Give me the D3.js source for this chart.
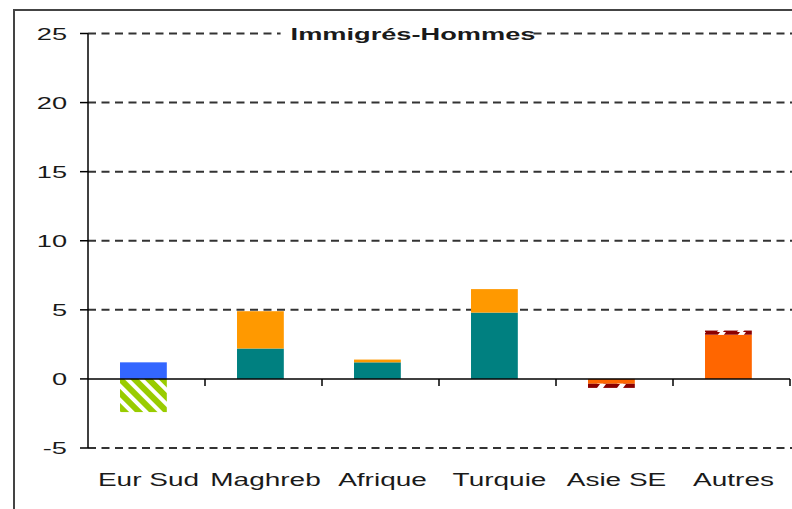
<!DOCTYPE html>
<html>
<head>
<meta charset="utf-8">
<script src="https://cdn.jsdelivr.net/npm/d3@7"></script>
<style>
  html, body { margin: 0; padding: 0; background: #fff; }
  svg { display: block; font-family: "Liberation Sans", Arial, sans-serif; }
</style>
</head>
<body>
<svg id="chart" width="792" height="509"></svg>
<script>
// ---- data ----
const categories = ["Eur Sud", "Maghreb", "Afrique", "Turquie", "Asie SE", "Autres"];
const yTicks = [-5, 0, 5, 10, 15, 20, 25];
const title = "Immigrés-Hommes";

// one array per series (stacked, negatives go down)
const serieBleu   = [1.2, 0, 0, 0, 0, 0];
const serieVert   = [-2.4, 0, 0, 0, 0, 0];
const serieTeal   = [0, 2.2, 1.2, 4.8, 0, 0];
const serieOrange = [0, 2.7, 0.2, 1.7, 0, 0];
const serieRouge  = [0, 0, 0, 0, -0.35, 3.2];
const serieBrun   = [0, 0, 0, 0, -0.3, 0.3];

const seriesKeys = ["bleu", "vert", "teal", "orange", "rouge", "brun"];
const seriesFill = {
  bleu: "#3366ff", vert: "url(#hatchVert)", teal: "#008080",
  orange: "#ff9900", rouge: "#ff6600", brun: "url(#dashBrun)"
};

const rows = categories.map((c, i) => ({
  cat: c,
  bleu: serieBleu[i], vert: serieVert[i], teal: serieTeal[i],
  orange: serieOrange[i], rouge: serieRouge[i], brun: serieBrun[i]
}));

// ---- layout ----
const svg = d3.select("#chart");
const stretch = 1.6;   // the picture is wide-stretched, text too

const y = d3.scaleLinear().domain([-5, 25]).range([448, 33.5]);
const x = d3.scaleBand().domain(categories).range([88, 790])
  .paddingInner(0.6).paddingOuter(0.3).align(0.456);
const step = x.step();
const catCenter = i => 88 + (i + 0.5) * step;

// patterns
const defs = svg.append("defs");
const hv = defs.append("pattern")
  .attr("id", "hatchVert").attr("patternUnits", "userSpaceOnUse")
  .attr("width", 10).attr("height", 10)
  .attr("patternTransform", "rotate(-45)");
hv.append("rect").attr("width", 10).attr("height", 10).attr("fill", "#99cc00");
hv.append("rect").attr("width", 4).attr("height", 10).attr("fill", "#fff");

const db = defs.append("pattern")
  .attr("id", "dashBrun").attr("patternUnits", "userSpaceOnUse")
  .attr("width", 20).attr("height", 4);
db.append("rect").attr("width", 20).attr("height", 4).attr("fill", "#fff");
db.append("path").attr("d", "M6,0 L20,0 L17,4 L3,4 Z").attr("fill", "#8b0000");

// outer frame
svg.append("rect")
  .attr("x", 14).attr("y", 10).attr("width", 820).attr("height", 540)
  .attr("fill", "none").attr("stroke", "#444").attr("stroke-width", 2);

// gridlines (dashed)
svg.append("g").selectAll("line")
  .data(yTicks.filter(d => d !== 0))
  .join("line")
  .attr("x1", 88).attr("x2", 792)
  .attr("y1", d => y(d)).attr("y2", d => y(d))
  .attr("stroke", "#333").attr("stroke-width", 2)
  .attr("stroke-dasharray", "8,5.5");

// stacked bars
const stack = d3.stack().keys(seriesKeys).offset(d3.stackOffsetDiverging);
const layers = stack(rows);

svg.append("g").selectAll("g")
  .data(layers)
  .join("g")
  .attr("fill", d => seriesFill[d.key])
  .selectAll("rect")
  .data(d => d.filter(p => p[1] - p[0] !== 0))
  .join("rect")
  .attr("x", d => x(d.data.cat))
  .attr("width", x.bandwidth())
  .attr("y", d => y(d[1]))
  .attr("height", d => y(d[0]) - y(d[1]));

// y axis
const yAxis = svg.append("g");
yAxis.append("line")
  .attr("x1", 88).attr("x2", 88).attr("y1", y(25)).attr("y2", y(-5))
  .attr("stroke", "#000").attr("stroke-width", 1.5);
yAxis.selectAll(".ytick")
  .data(yTicks).join("line")
  .attr("x1", 80).attr("x2", 88)
  .attr("y1", d => y(d)).attr("y2", d => y(d))
  .attr("stroke", "#000").attr("stroke-width", 1.5);
yAxis.selectAll("text")
  .data(yTicks).join("text")
  .attr("transform", d => `translate(67,${y(d)}) scale(${stretch},1)`)
  .attr("dy", "0.36em")
  .attr("text-anchor", "end")
  .attr("font-size", 17)
  .attr("fill", "#1a1a1a")
  .text(d => d);

// x axis at zero
const xAxis = svg.append("g");
xAxis.append("line")
  .attr("x1", 88).attr("x2", 790).attr("y1", y(0)).attr("y2", y(0))
  .attr("stroke", "#000").attr("stroke-width", 1.5);
xAxis.selectAll(".xtick")
  .data(categories).join("line")
  .attr("x1", (d, i) => 88 + (i + 1) * step).attr("x2", (d, i) => 88 + (i + 1) * step)
  .attr("y1", y(0)).attr("y2", y(0) + 7)
  .attr("stroke", "#000").attr("stroke-width", 1.5);
xAxis.selectAll("text")
  .data(categories).join("text")
  .attr("transform", (d, i) => `translate(${catCenter(i) + 2},486) scale(${stretch},1)`)
  .attr("text-anchor", "middle")
  .attr("font-size", 17.5)
  .attr("fill", "#1a1a1a")
  .text(d => d);

// title
const tg = svg.append("g");
const bg = tg.append("rect").attr("fill", "#fff");
const tt = tg.append("text")
  .attr("transform", `translate(413,39.5) scale(${stretch},1)`)
  .attr("text-anchor", "middle")
  .attr("font-size", 17).attr("font-weight", "bold")
  .attr("fill", "#1a1a1a")
  .text(title);
const bb = tt.node().getBBox();
bg.attr("x", 413 + bb.x * stretch - 10).attr("y", 27)
  .attr("width", bb.width * stretch + 4).attr("height", 12);
</script>
</body>
</html>
